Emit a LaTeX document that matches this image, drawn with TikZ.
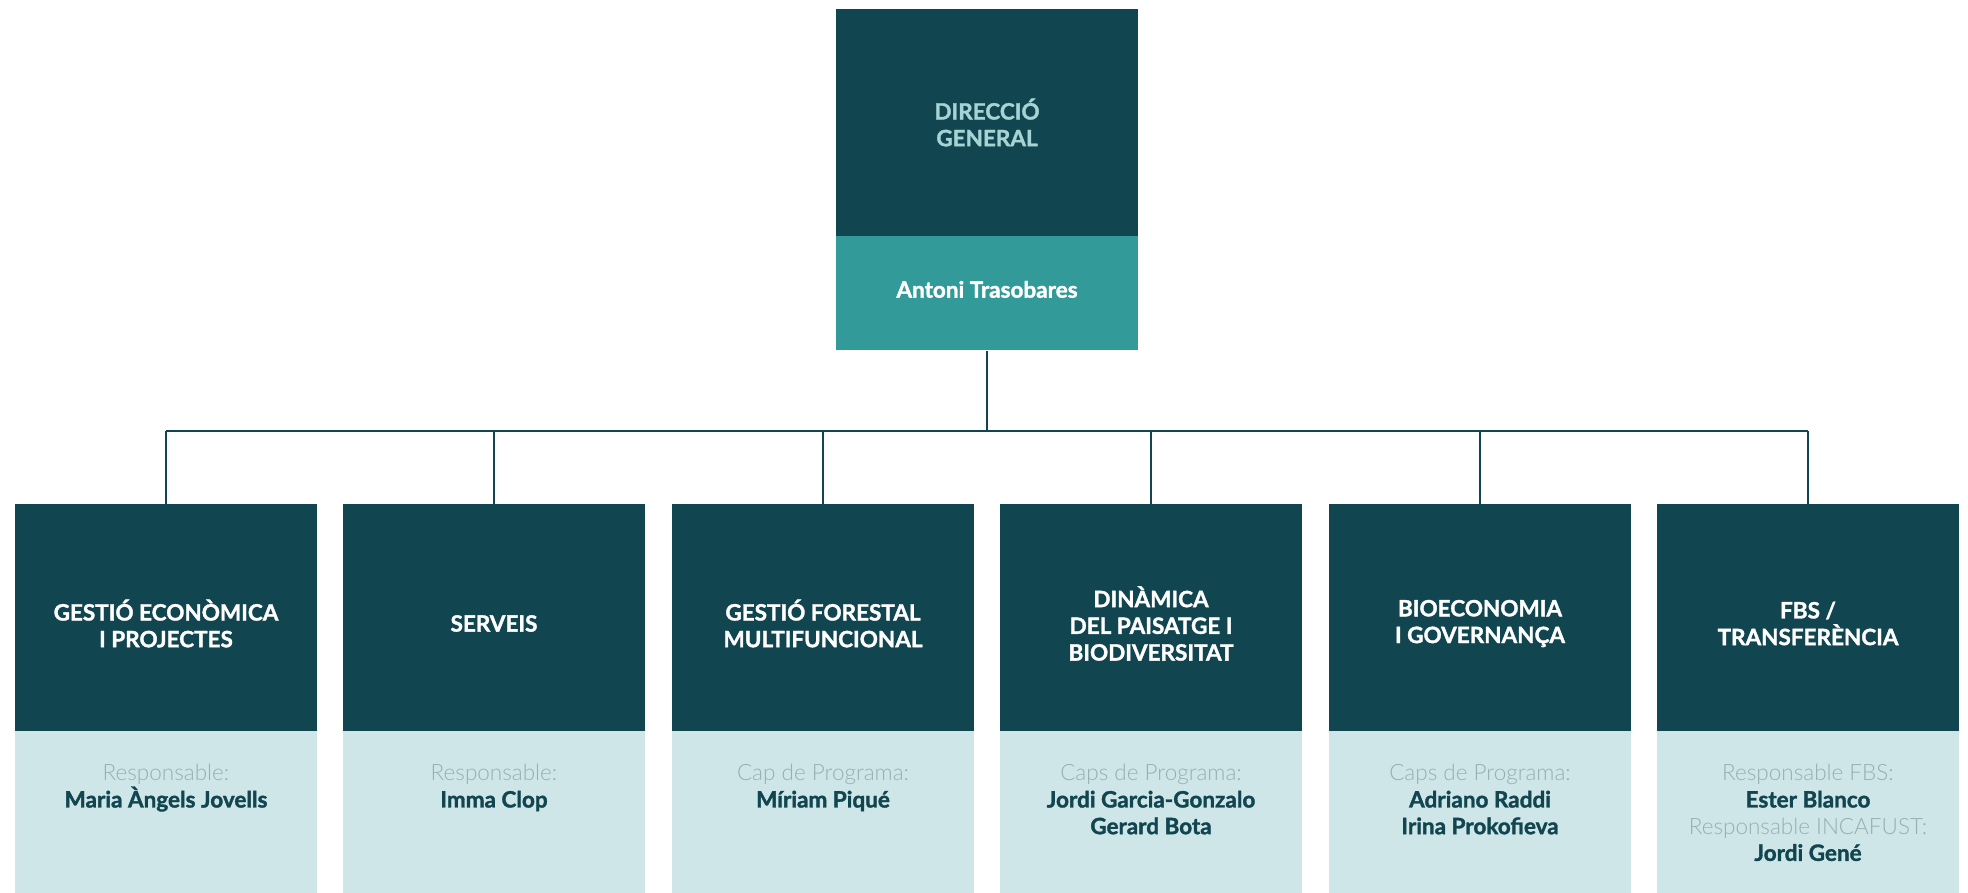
\documentclass[tikz,border=0pt]{standalone}
\usepackage{fontspec}
\setmainfont{Lato}[BoldFeatures={FakeBold=1.5}]
\newfontfamily\lightfont{Lato Light}
\usepackage{tikz}
\usetikzlibrary{positioning, calc}
\definecolor{petrol}{HTML}{114550}
\definecolor{tealmid}{HTML}{339A9A}
\definecolor{pale}{HTML}{CFE6E9}
\definecolor{mint}{HTML}{A6D3D3}
\definecolor{greytxt}{HTML}{98AEB2}

\begin{document}
\begin{tikzpicture}[x=1pt, y=-1pt,
	head/.style={fill=petrol, minimum width=302pt, minimum height=227pt, inner sep=0pt},
	title/.style={text=white, inner sep=0pt, align=center, font=\bfseries\fontsize{22.5}{26.7}\selectfont},
	palebox/.style={fill=pale, minimum width=302pt, minimum height=162pt, inner sep=0pt, anchor=north},
	who/.style={anchor=north, align=center, inner sep=0pt, text=petrol, font=\fontsize{22.5}{26.7}\selectfont},
	link/.style={petrol, line width=1.6pt}]
		\useasboundingbox (0,0) rectangle (1968,893);

		% direccio
		\node[head] (dirHead) at (987,122.5) {};
		\node[fill=tealmid, minimum width=302pt, minimum height=114pt, inner sep=0pt, anchor=north] (dirName) at (dirHead.south) {};
		\node[title, text=mint] (dirTitle) at (dirHead.center) {DIRECCIÓ\\GENERAL};
		\node[title] (dirWho) at ($(dirName.center)+(0,-4)$) {Antoni Trasobares};

		% departaments
		\node[head] (ecoHead) at (166,617.5) {};
		\node[head] (servHead) at (494,617.5) {};
		\node[head] (forestHead) at (823,617.5) {};
		\node[head] (paisHead) at (1151,617.5) {};
		\node[head] (bioHead) at (1480,617.5) {};
		\node[head] (fbsHead) at (1808,617.5) {};

		\node[title] (ecoTitle) at ($(ecoHead)+(0,6)$) {GESTIÓ ECONÒMICA\\I PROJECTES};
		\node[title] (servTitle) at ($(servHead)+(0,6)$) {SERVEIS};
		\node[title] (forestTitle) at ($(forestHead)+(0,6)$) {GESTIÓ FORESTAL\\MULTIFUNCIONAL};
		\node[title] (paisTitle) at ($(paisHead)+(0,6)$) {DINÀMICA\\DEL PAISATGE I\\BIODIVERSITAT};
		\node[title] (bioTitle) at ($(bioHead)+(0,6)$) {BIOECONOMIA\\I GOVERNANÇA};
		\node[title] (fbsTitle) at ($(fbsHead)+(0,6)$) {FBS /\\TRANSFERÈNCIA};

		\node[palebox] (ecoLow) at (ecoHead.south) {};
		\node[palebox] (servLow) at (servHead.south) {};
		\node[palebox] (forestLow) at (forestHead.south) {};
		\node[palebox] (paisLow) at (paisHead.south) {};
		\node[palebox] (bioLow) at (bioHead.south) {};
		\node[palebox] (fbsLow) at (fbsHead.south) {};

		\node[who] (ecoWho) at ($(ecoLow.north)+(0,33)$) {{\lightfont\color{greytxt}Responsable:}\\\textbf{Maria Àngels Jovells}};
		\node[who] (servWho) at ($(servLow.north)+(0,33)$) {{\lightfont\color{greytxt}Responsable:}\\\textbf{Imma Clop}};
		\node[who] (forestWho) at ($(forestLow.north)+(0,33)$) {{\lightfont\color{greytxt}Cap de Programa:}\\\textbf{Míriam Piqué}};
		\node[who] (paisWho) at ($(paisLow.north)+(0,33)$) {{\lightfont\color{greytxt}Caps de Programa:}\\\textbf{Jordi Garcia-Gonzalo}\\\textbf{Gerard Bota}};
		\node[who] (bioWho) at ($(bioLow.north)+(0,33)$) {{\lightfont\color{greytxt}Caps de Programa:}\\\textbf{Adriano Raddi}\\\textbf{Irina Prokofieva}};
		\node[who] (fbsWho) at ($(fbsLow.north)+(0,33)$) {{\lightfont\color{greytxt}Responsable FBS:}\\\textbf{Ester Blanco}\\{\lightfont\color{greytxt}Responsable INCAFUST:}\\\textbf{Jordi Gené}};

		% connectors
		\coordinate (bus) at (0,431);
		\draw[link] (dirName.south) -- (dirName.south |- bus);
		\draw[link] (ecoHead.north |- bus) -- (fbsHead.north |- bus);
		\foreach \unit in {eco, serv, forest, pais, bio, fbs}
			\draw[link] (\unit Head.north) -- (\unit Head.north |- bus);
	\end{tikzpicture}
\end{document}
